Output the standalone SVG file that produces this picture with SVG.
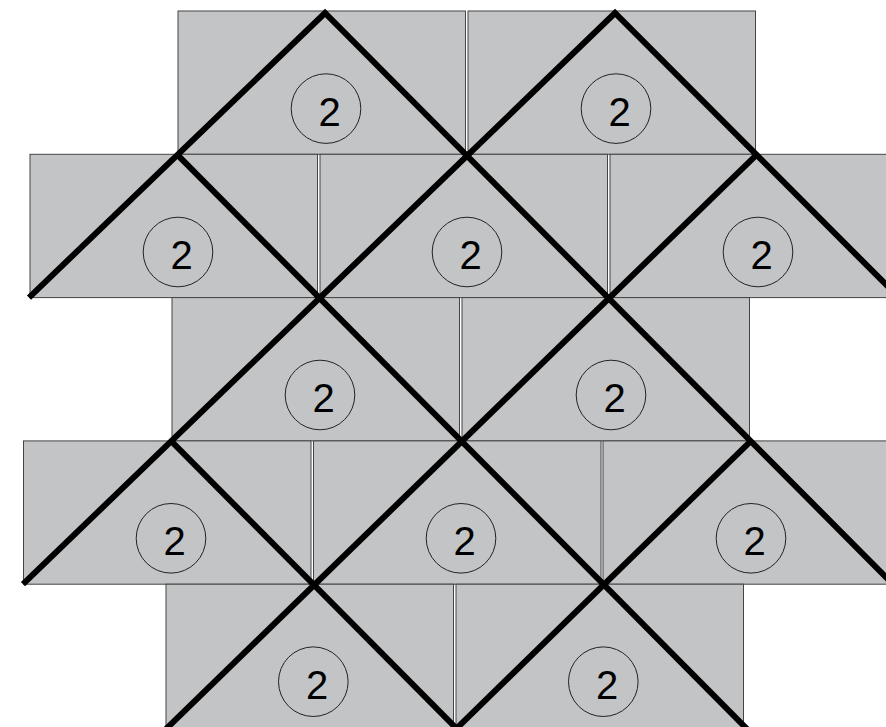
<svg xmlns="http://www.w3.org/2000/svg" width="886" height="727" viewBox="0 0 886 727">
<style>
.tile{fill:#c3c4c6;stroke:#444;stroke-width:1}
.edge{fill:none;stroke:#000;stroke-width:6;stroke-linejoin:miter;stroke-miterlimit:10}
.ring{fill:none;stroke:#222;stroke-width:1}
.num{font-family:"Liberation Sans",Arial,sans-serif;font-size:40px;fill:#000;text-anchor:middle}
</style>
<rect width="886" height="727" fill="#fff"/>
<g id="tiles">
<g id="tile-a1"><rect class="tile" x="178" y="11" width="287.5" height="143.3"/></g>
<g id="tile-a2"><rect class="tile" x="468" y="11" width="287.5" height="143.3"/></g>
<g id="tile-b1"><rect class="tile" x="30" y="154.3" width="287.5" height="143.3"/></g>
<g id="tile-b2"><rect class="tile" x="320" y="154.3" width="287.5" height="143.3"/></g>
<g id="tile-b3"><rect class="tile" x="610" y="154.3" width="287.5" height="143.3"/></g>
<g id="tile-c1"><rect class="tile" x="172" y="297.6" width="287.5" height="143.3"/></g>
<g id="tile-c2"><rect class="tile" x="462" y="297.6" width="287.5" height="143.3"/></g>
<g id="tile-d1"><rect class="tile" x="23.5" y="440.9" width="287.5" height="143.3"/></g>
<g id="tile-d2"><rect class="tile" x="313.5" y="440.9" width="287.5" height="143.3"/></g>
<g id="tile-d3"><rect class="tile" x="603" y="440.9" width="287.5" height="143.3"/></g>
<g id="tile-e1"><rect class="tile" x="166" y="584.2" width="287.5" height="150"/></g>
<g id="tile-e2"><rect class="tile" x="456" y="584.2" width="287.5" height="150"/></g>
</g>
<g id="connectors">
<path class="edge" d="M29,297.6 L325,13 L893,584.2"/>
<path class="edge" d="M23,584.2 L615,13 L899,297.6"/>
<path class="edge" d="M165,730 L757,154.3"/>
<path class="edge" d="M455,730 L751,440.9"/>
<path class="edge" d="M177,154.3 L748,730"/>
<path class="edge" d="M171,440.9 L458,730"/>
</g>
<g id="labels">
<g id="n-a1"><circle class="ring" cx="326" cy="108.6" r="34.8"/><text class="num" x="329.7" y="125.7">2</text></g>
<g id="n-a2"><circle class="ring" cx="616" cy="108.6" r="34.8"/><text class="num" x="619.7" y="125.7">2</text></g>
<g id="n-b1"><circle class="ring" cx="178" cy="252" r="34.8"/><text class="num" x="181.7" y="269.1">2</text></g>
<g id="n-b2"><circle class="ring" cx="467" cy="252" r="34.8"/><text class="num" x="470.7" y="269.1">2</text></g>
<g id="n-b3"><circle class="ring" cx="758" cy="252" r="34.8"/><text class="num" x="761.7" y="269.1">2</text></g>
<g id="n-c1"><circle class="ring" cx="320" cy="395" r="34.8"/><text class="num" x="323.7" y="412.1">2</text></g>
<g id="n-c2"><circle class="ring" cx="611" cy="395" r="34.8"/><text class="num" x="614.7" y="412.1">2</text></g>
<g id="n-d1"><circle class="ring" cx="171" cy="538.3" r="34.8"/><text class="num" x="174.7" y="555.4">2</text></g>
<g id="n-d2"><circle class="ring" cx="461" cy="538.3" r="34.8"/><text class="num" x="464.7" y="555.4">2</text></g>
<g id="n-d3"><circle class="ring" cx="751" cy="538.3" r="34.8"/><text class="num" x="754.7" y="555.4">2</text></g>
<g id="n-e1"><circle class="ring" cx="313.3" cy="681.7" r="34.8"/><text class="num" x="317" y="698.8">2</text></g>
<g id="n-e2"><circle class="ring" cx="603.3" cy="681.7" r="34.8"/><text class="num" x="607" y="698.8">2</text></g>
</g>
</svg>
